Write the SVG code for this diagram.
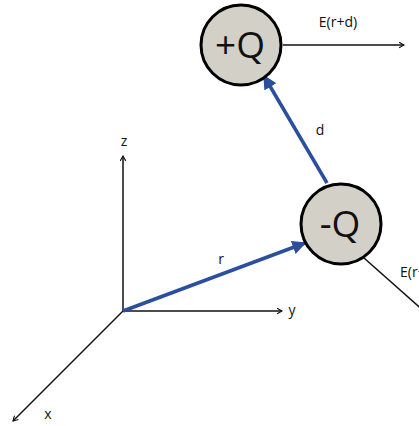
<svg xmlns="http://www.w3.org/2000/svg" width="419" height="426" viewBox="0 0 419 426">
<style>
.ax{stroke:#111;stroke-width:1.5;fill:none}
.bl{stroke:#2b4f9e;stroke-width:3.5;fill:none}
.ch{fill:#d3d0c8;stroke:#000;stroke-width:3}
.t{font-family:"Open Sans","DejaVu Sans",sans-serif;font-size:14px;fill:#111}
.q{font-family:"Open Sans","DejaVu Sans",sans-serif;font-size:37px;fill:#111}
</style>
<defs>
<marker id="ah" viewBox="0 0 10 10" refX="8" refY="5" markerWidth="7" markerHeight="7" orient="auto" markerUnits="userSpaceOnUse"><path d="M1,1 L8,5 L1,9" fill="none" stroke="#111" stroke-width="1.6"/></marker>
<marker id="bh" viewBox="0 0 10 10" refX="9" refY="5" markerWidth="14" markerHeight="14" orient="auto" markerUnits="userSpaceOnUse"><path d="M0,0 L10,5 L0,10 z" fill="#2b4f9e"/></marker>
</defs>
<g id="connectors">
<line class="ax" x1="123" y1="311" x2="123" y2="156" marker-end="url(#ah)"/>
<line class="ax" x1="123" y1="311" x2="282" y2="311" marker-end="url(#ah)"/>
<line class="ax" x1="123" y1="311" x2="13" y2="421" marker-end="url(#ah)"/>
<line class="ax" x1="283" y1="45" x2="404" y2="45" marker-end="url(#ah)" stroke-width="2"/>
<line class="ax" x1="364" y1="258" x2="425" y2="312" stroke-width="2"/>
<line class="bl" x1="123" y1="311" x2="305" y2="243" marker-end="url(#bh)"/>
<line class="bl" x1="327" y1="183" x2="264" y2="76" marker-end="url(#bh)"/>
</g>
<g id="plusQ">
<circle class="ch" cx="241" cy="45" r="40"/>
<text class="q" x="240" y="58" text-anchor="middle">+Q</text>
</g>
<g id="minusQ">
<circle class="ch" cx="341" cy="224" r="40"/>
<text class="q" x="340" y="237" text-anchor="middle">-Q</text>
</g>
<g id="labels">
<text class="t" x="338" y="27" text-anchor="middle">E(r+d)</text>
<text class="t" x="400" y="277">E(r+d)</text>
<text class="t" x="320" y="135" text-anchor="middle">d</text>
<text class="t" x="221" y="264" text-anchor="middle">r</text>
<text class="t" x="124" y="146" text-anchor="middle">z</text>
<text class="t" x="292" y="315" text-anchor="middle">y</text>
<text class="t" x="48" y="419" text-anchor="middle">x</text>
</g>
</svg>
